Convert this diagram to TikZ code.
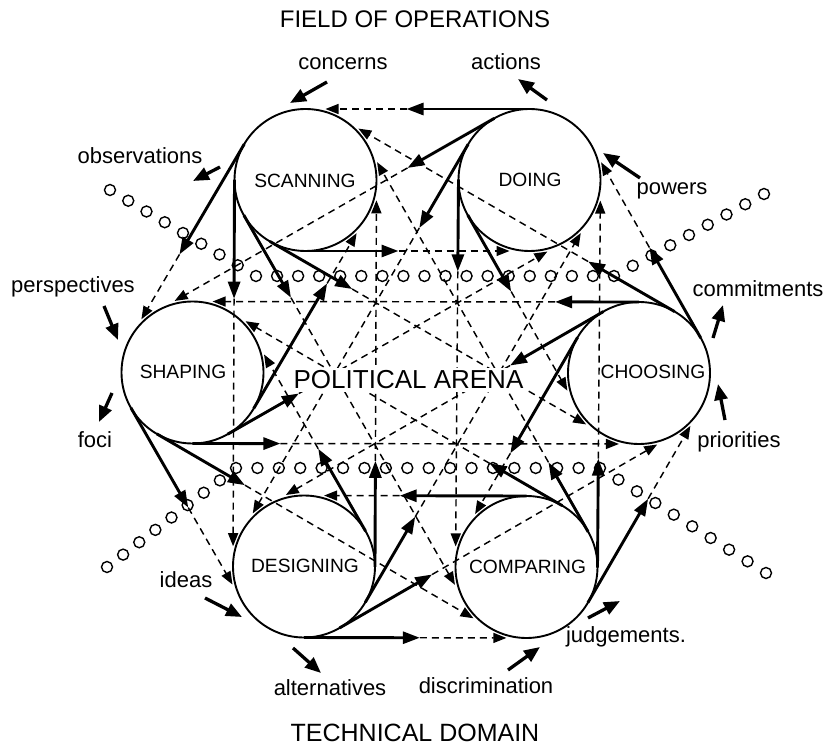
\documentclass[tikz,border=0pt]{standalone}
\usepackage{fontspec}
\setmainfont{Liberation Sans}
\usetikzlibrary{calc,arrows.meta}
\begin{document}
\begin{tikzpicture}[x=1pt,y=-1pt,
  bub/.style={circle,draw,line width=1.9pt,minimum size=142pt,inner sep=0pt},
  flowsolid/.style={line width=2.9pt,-{Triangle[length=17pt,width=12pt]}},
  flowdash/.style={line width=1.45pt,dash pattern=on 7pt off 5pt,-{Triangle[length=13pt,width=10pt]}},
  extarr/.style={line width=3.3pt,-{Triangle[length=16pt,width=13pt]}},
  dot/.style={line width=1.4pt},
  lab/.style={font=\fontsize{22}{24}\selectfont,inner sep=0pt,anchor=base},
  clab/.style={font=\fontsize{19.2}{21}\selectfont,inner sep=0pt},
  ttl/.style={font=\fontsize{24}{26}\selectfont,inner sep=0pt,anchor=base},
  arena/.style={font=\fontsize{26}{28}\selectfont,inner sep=3pt,fill=white},
]
\useasboundingbox (0,0) rectangle (831,746);

% process circles
\node[bub] (SC) at (305.5,180) {};
\node[bub] (DO) at (529.5,180) {};
\node[bub] (SH) at (192.5,372.5) {};
\node[bub] (CH) at (639,373) {};
\node[bub] (DE) at (304,566.5) {};
\node[bub] (CO) at (526.5,567) {};

\node[clab] (SCt) at (305,181) {SCANNING};
\node[clab] (DOt) at (530,180) {DOING};
\node[clab] (SHt) at (183,371.5) {SHAPING};
\node[clab] (CHt) at (653,371.5) {CHOOSING};
\node[clab] (DEt) at (305,566) {DESIGNING};
\node[clab] (COt) at (527.5,566.5) {COMPARING};

% flows between every ordered pair: solid start, dashed continuation
\foreach \a/\b/\l in {
  SC/DO/93, SC/SH/128, SC/DE/119, SC/CO/95, SC/CH/95,
  DO/SC/123, DO/SH/100, DO/DE/97, DO/CO/92, DO/CH/88,
  SH/SC/145, SH/DO/82, SH/CH/88, SH/DE/115, SH/CO/102,
  CH/SH/84, CH/SC/100, CH/DO/104, CH/DE/108, CH/CO/134,
  DE/SC/106, DE/DO/99, DE/SH/95, DE/CO/116, DE/CH/107,
  CO/DO/109, CO/SC/80, CO/SH/84, CO/DE/127, CO/CH/120}{
  \coordinate (P) at ($(\a.center)!71pt!-90:(\b.center)$);
  \coordinate (Q) at ($(\b.center)!71pt!90:(\a.center)$);
  \coordinate (S) at ($(P)!\l pt!(Q)$);
  \coordinate (T) at ($(Q)!20pt!(P)$);
  \draw[flowdash] (S) -- (T);
  \draw[flowsolid] (P) -- (S);
}

% rows of small circles (boundaries of the political arena)
\coordinate (r1) at (110,190);
\coordinate (r2) at (256,276);
\coordinate (r3) at (614,276);
\coordinate (r4) at (764,194);
\foreach \i in {0,...,7} \draw[dot] ($(r1)!\i/8!(r2)$) circle[radius=5.5pt];
\foreach \i in {0,...,16} \draw[dot] ($(r2)!\i/17!(r3)$) circle[radius=5.5pt];
\foreach \i in {0,...,8} \draw[dot] ($(r3)!\i/8!(r4)$) circle[radius=5.5pt];
\coordinate (b1) at (107,567);
\coordinate (b2) at (236,468);
\coordinate (b3) at (600,468);
\coordinate (b4) at (766,573);
\foreach \i in {0,...,7} \draw[dot] ($(b1)!\i/8!(b2)$) circle[radius=5.5pt];
\foreach \i in {0,...,16} \draw[dot] ($(b2)!\i/17!(b3)$) circle[radius=5.5pt];
\foreach \i in {0,...,9} \draw[dot] ($(b3)!\i/9!(b4)$) circle[radius=5.5pt];

% titles
\node[ttl] (top) at (415,28) {FIELD OF OPERATIONS};
\node[ttl,font=\fontsize{25}{27}\selectfont] (bot) at (415,741) {TECHNICAL DOMAIN};
\node[arena] (pa) at (408.5,380) {POLITICAL ARENA};

% inputs and outputs
\node[lab] (l1) at (343,70) {concerns};
\node[lab] (l2) at (506,70) {actions};
\node[lab] (l3) at (140,164) {observations};
\node[lab] (l4) at (672,195) {powers};
\node[lab] (l5) at (73,293) {perspectives};
\node[lab] (l6) at (758,297) {commitments};
\node[lab] (l7) at (95,447) {foci};
\node[lab] (l8) at (739,447) {priorities};
\node[lab] (l9) at (186,587) {ideas};
\node[lab] (l10) at (330,695) {alternatives};
\node[lab] (l11) at (486,693) {discrimination};
\node[lab] (l12) at (626,642) {judgements.};

\coordinate (a1s) at (327,82);  \coordinate (a1e) at (290,103);
\coordinate (a2s) at (547,100); \coordinate (a2e) at (518,79);
\coordinate (a3s) at (220,167); \coordinate (a3e) at (193,181);
\coordinate (a4s) at (640,178); \coordinate (a4e) at (603,153);
\coordinate (a5s) at (104,306); \coordinate (a5e) at (118,340);
\coordinate (a6s) at (713,338); \coordinate (a6e) at (723,305);
\coordinate (a7s) at (112,393); \coordinate (a7e) at (99,422);
\coordinate (a8s) at (725,420); \coordinate (a8e) at (718,384);
\coordinate (a9s) at (205,598); \coordinate (a9e) at (242,617);
\coordinate (a10s) at (293,648); \coordinate (a10e) at (321,673);
\coordinate (a11s) at (508,670); \coordinate (a11e) at (540,647);
\coordinate (a12s) at (588,618); \coordinate (a12e) at (620,601);
\foreach \k in {1,...,12} \draw[extarr] (a\k s) -- (a\k e);
\end{tikzpicture}
\end{document}
